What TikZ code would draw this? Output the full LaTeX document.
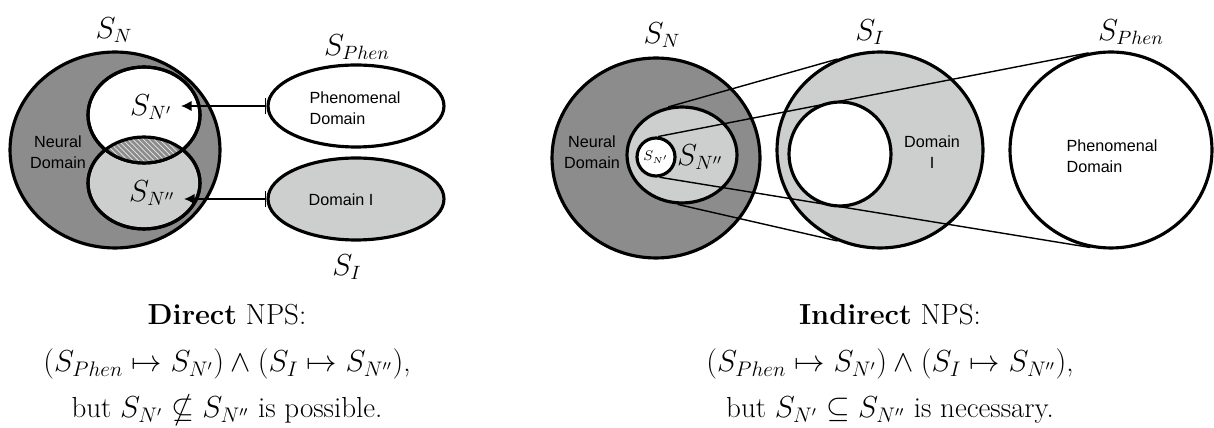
\documentclass[tikz,border=0pt]{standalone}
\usepackage{amssymb}
\usepackage{fontspec}
\setsansfont{Liberation Sans}
\usetikzlibrary{shapes.geometric,arrows.meta,patterns}
\definecolor{neuralgray}{RGB}{140,140,140}
\definecolor{domaingray}{RGB}{205,207,206}
\tikzset{
  domainset/.style={ellipse, draw, line width=1.8pt, inner sep=0pt},
  setlbl/.style={font=\fontsize{16}{18}\selectfont, inner sep=1pt},
  domlbl/.style={font=\sffamily\fontsize{9.2}{12}\selectfont, align=center, inner sep=0pt},
  cone/.style={line width=0.8pt},
  mapsto/.style={line width=1.1pt, {Bar[width=9pt,line width=1.1pt]}-{Latex[length=6pt,width=6pt]}},
  capline/.style={anchor=base, font=\fontsize{16.5}{20}\selectfont, inner sep=0pt}
}
\begin{document}
\begin{tikzpicture}[x=0.02cm, y=-0.02cm]
\useasboundingbox (0,0) rectangle (1214,428);
% Direct NPS: neural domain with two overlapping subsets
\node[domainset, fill=neuralgray, minimum width=4.2cm, minimum height=3.92cm] (snL) at (115,150) {};
\node[domainset, fill=domaingray, minimum width=2.24cm, minimum height=1.84cm] (snppL) at (144,183) {};
\node[domainset, fill=white, minimum width=2.24cm, minimum height=1.92cm] (snpL) at (144,115) {};
\begin{scope}
  \clip (snpL.center) ellipse [x radius=1.12cm, y radius=0.96cm];
  \fill[neuralgray] (snppL.center) ellipse [x radius=1.12cm, y radius=0.92cm];
  \fill[pattern=north west lines, pattern color=white!80!neuralgray] (snppL.center) ellipse [x radius=1.12cm, y radius=0.92cm];
\end{scope}
\draw[line width=1.8pt] (snpL.center) ellipse [x radius=1.12cm, y radius=0.96cm];
\draw[line width=1.8pt] (snppL.center) ellipse [x radius=1.12cm, y radius=0.92cm];
\node[domlbl] (neuralL) at (58,152) {Neural\\Domain};
\node[domainset, minimum width=3.52cm, minimum height=1.64cm] (phenL) at (356,106) {};
\node[domainset, fill=domaingray, minimum width=3.52cm, minimum height=1.64cm] (domL) at (356,199) {};
\node[domlbl, align=left] (phentxtL) at (355,108) {Phenomenal\\Domain};
\node[domlbl] (domtxtL) at (341,200) {Domain I};
\node[setlbl] (snlblL) at (114,30) {$S_N$};
\node[setlbl] (phenlblL) at (357,47) {$S_{Phen}$};
\node[setlbl] (silblL) at (347,267) {$S_I$};
\node[setlbl, inner xsep=5pt] (snplblL) at (151,107) {$S_{N'}$};
\node[setlbl, inner xsep=5pt] (snpplblL) at (152,193) {$S_{N''}$};
\draw[mapsto] (phenL.west) -- (phenL.west -| snplblL.east);
\draw[mapsto] (domL.west) -- (domL.west -| snpplblL.east);
\node[capline] (directA) at (227,325) {\textbf{Direct} NPS:};
\node[capline] (directB) at (227,372) {$(S_{Phen} \mapsto S_{N'}) \wedge (S_I \mapsto S_{N''})$,};
\node[capline] (directC) at (227,418) {but $S_{N'} \nsubseteq S_{N''}$ is possible.};
% Indirect NPS: nested subsets projected onto the domains
\node[domainset, fill=neuralgray, minimum width=4.16cm, minimum height=4cm] (snR) at (656,158) {};
\node[domainset, fill=domaingray, minimum width=2.2cm, minimum height=1.92cm] (snppR) at (682,155) {};
\node[domainset, fill=white, minimum width=0.76cm, minimum height=0.76cm, font=\fontsize{7.6}{8}\selectfont] (snpR) at (656,157) {$S_{N'}$};
\node[domainset, fill=domaingray, minimum width=4.12cm, minimum height=3.92cm] (siR) at (880,150) {};
\node[domainset, fill=white, minimum width=2.04cm, minimum height=2.08cm] (siinR) at (840,154) {};
\node[domainset, fill=white, minimum width=4.04cm, minimum height=3.92cm] (phenR) at (1111,150) {};
\draw[cone] (snppR.106) -- (siR.115);
\draw[cone] (snppR.265) -- (siR.245);
\draw[cone] (snpR.84) -- (phenR.103);
\draw[cone] (snpR.280) -- (phenR.258);
\node[domlbl] (neuralR) at (592,152) {Neural\\Domain};
\node[domlbl] (domtxtR) at (932,152) {Domain\\I};
\node[domlbl, align=left] (phentxtR) at (1112,156) {Phenomenal\\Domain};
\node[setlbl] (snpplblR) at (700,157) {$S_{N''}$};
\node[setlbl] (snlblR) at (662,35) {$S_N$};
\node[setlbl] (silblR) at (870,32) {$S_I$};
\node[setlbl] (phenlblR) at (1131,32) {$S_{Phen}$};
\node[capline] (indirectA) at (890,325) {\textbf{Indirect} NPS:};
\node[capline] (indirectB) at (890,372) {$(S_{Phen} \mapsto S_{N'}) \wedge (S_I \mapsto S_{N''})$,};
\node[capline] (indirectC) at (890,418) {but $S_{N'} \subseteq S_{N''}$ is necessary.};
\end{tikzpicture}
\end{document}
